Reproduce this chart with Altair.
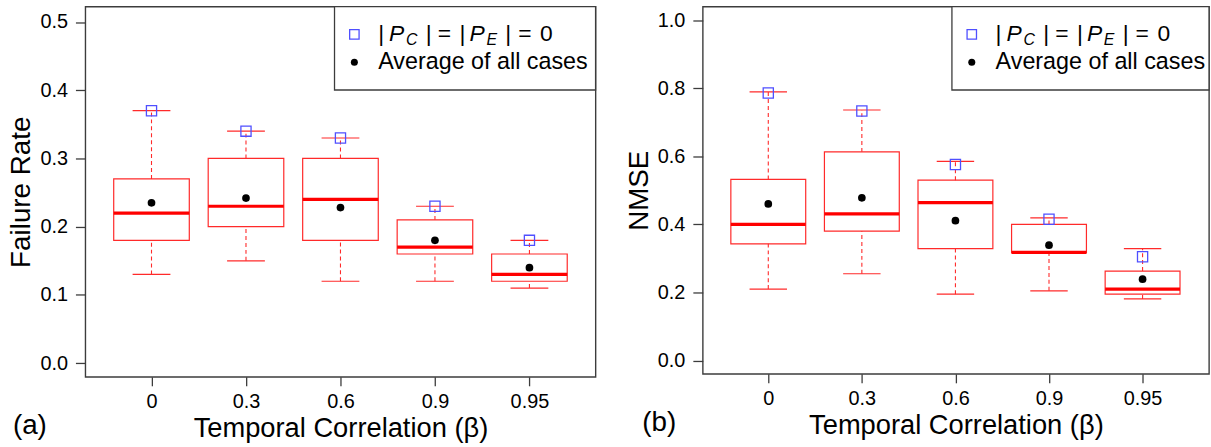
import altair as alt
import pandas as pd

# Temporal correlation settings (beta) shown on the x axis
beta_labels = ["0", "0.3", "0.6", "0.9", "0.95"]

# Failure rate box-plot statistics per beta
fr_whisker_low = [0.13, 0.15, 0.12, 0.12, 0.11]
fr_q1 = [0.18, 0.20, 0.18, 0.16, 0.12]
fr_median = [0.22, 0.23, 0.24, 0.17, 0.13]
fr_q3 = [0.27, 0.30, 0.30, 0.21, 0.16]
fr_whisker_high = [0.37, 0.34, 0.33, 0.23, 0.18]
fr_mean = [0.235, 0.242, 0.228, 0.18, 0.14]
fr_no_fault = [0.37, 0.34, 0.33, 0.23, 0.18]

# NMSE box-plot statistics per beta
nmse_whisker_low = [0.21, 0.255, 0.195, 0.205, 0.181]
nmse_q1 = [0.343, 0.38, 0.329, 0.317, 0.195]
nmse_median = [0.40, 0.431, 0.464, 0.318, 0.21]
nmse_q3 = [0.532, 0.613, 0.53, 0.40, 0.263]
nmse_whisker_high = [0.789, 0.736, 0.585, 0.419, 0.329]
nmse_mean = [0.46, 0.478, 0.411, 0.339, 0.239]
nmse_no_fault = [0.786, 0.733, 0.576, 0.415, 0.305]

FONT = "Liberation Sans"
RED = "#ff2a2a"
FRAME = "#3c3c3c"
BLUE = "#4f4fff"


def stats_frame(low, q1, med, q3, high, mean, zero):
    return pd.DataFrame({
        "pos": list(range(1, len(beta_labels) + 1)),
        "low": low, "q1": q1, "med": med, "q3": q3, "high": high,
        "mean": mean, "zero": zero,
    })


def panel(df, y_title, y_ticks, y_domain, width, height, x_domain, tag, tag_x):
    label_expr = "[" + ",".join(f"'{b}'" for b in beta_labels) + "][datum.value - 1]"
    x_axis = alt.Axis(
        values=list(range(1, len(beta_labels) + 1)), labelExpr=label_expr,
        title="Temporal Correlation (β)", tickSize=9, labelPadding=6,
        titlePadding=3, labelFontSize=20, titleFontSize=27.5, grid=False,
        domain=False, titleFontWeight="normal", labelFont=FONT, titleFont=FONT,
        tickColor=FRAME, tickWidth=1.3, labelColor="black", titleColor="black",
    )
    y_axis = alt.Axis(
        values=y_ticks, format=".1f", title=y_title, tickSize=10,
        labelPadding=8, titlePadding=4, labelFontSize=20, titleFontSize=28,
        grid=False, domain=False, titleFontWeight="normal", labelFont=FONT,
        titleFont=FONT, tickColor=FRAME, tickWidth=1.3, labelColor="black",
        titleColor="black",
    )
    xs = alt.Scale(domain=x_domain, nice=False, zero=False)
    ys = alt.Scale(domain=y_domain, nice=False, zero=False)

    def X(f):
        return alt.X(f, type="quantitative", scale=xs, axis=x_axis)

    def Y(f):
        return alt.Y(f, type="quantitative", scale=ys, axis=y_axis)

    base = alt.Chart(df).transform_calculate(
        bl="datum.pos - 0.4", br="datum.pos + 0.4",
        cl="datum.pos - 0.2", cr="datum.pos + 0.2",
    )

    whisk_lo = base.mark_rule(color=RED, strokeDash=[4, 3], strokeWidth=1.1).encode(
        x=X("pos"), y=Y("low"), y2="q1")
    whisk_hi = base.mark_rule(color=RED, strokeDash=[4, 3], strokeWidth=1.1).encode(
        x=X("pos"), y=Y("q3"), y2="high")
    cap_lo = base.mark_rule(color=RED, strokeWidth=1.2).encode(
        x=X("cl"), x2="cr", y=Y("low"))
    cap_hi = base.mark_rule(color=RED, strokeWidth=1.2).encode(
        x=X("cl"), x2="cr", y=Y("high"))
    box = base.mark_rect(fillOpacity=0, stroke=RED, strokeWidth=1.2).encode(
        x=X("bl"), x2="br", y=Y("q1"), y2="q3")
    median = base.mark_rule(color="#ff0000", strokeWidth=3.2).encode(
        x=X("bl"), x2="br", y=Y("med"))
    zero = base.mark_point(shape="square", filled=False, color=BLUE, size=105,
                           strokeWidth=1.3, opacity=1).encode(x=X("pos"), y=Y("zero"))
    mean = base.mark_circle(color="black", size=60, opacity=1).encode(
        x=X("pos"), y=Y("mean"))

    one = alt.Data(values=[{"k": 0}])
    lx0, ly1, ly2 = 271, 28, 56
    tx = lx0 + 23
    legend_box = alt.Chart(one).mark_rect(fill="white", stroke=FRAME, strokeWidth=1.3).encode(
        x=alt.value(251), x2=alt.value(width), y=alt.value(0), y2=alt.value(84))
    leg_sq = alt.Chart(one).mark_point(shape="square", filled=False, color=BLUE,
                                       size=90, strokeWidth=1.3, opacity=1).encode(
        x=alt.value(lx0), y=alt.value(ly1))
    leg_dot = alt.Chart(one).mark_circle(color="black", size=50, opacity=1).encode(
        x=alt.value(lx0), y=alt.value(ly2))

    pieces = [
        ("|", 1, 0, 23, "normal"),
        ("P", 12, 0, 23, "italic"),
        ("C", 29, 6, 16, "italic"),
        ("|", 49, 0, 23, "normal"),
        ("=", 61, 0, 23, "normal"),
        ("|", 83, 0, 23, "normal"),
        ("P", 93, 0, 23, "italic"),
        ("E", 110, 6, 16, "italic"),
        ("|", 129, 0, 23, "normal"),
        ("=", 142, 0, 23, "normal"),
        ("0", 164, 0, 23, "normal"),
    ]
    leg_text = []
    for txt, dx, dy, fs, style in pieces:
        leg_text.append(alt.Chart(one).mark_text(
            text=txt, font=FONT, fontSize=fs, fontStyle=style, align="left",
            baseline="middle", color="black").encode(
            x=alt.value(tx + dx), y=alt.value(ly1 + dy)))
    leg_text.append(alt.Chart(one).mark_text(
        text="Average of all cases", font=FONT, fontSize=23.5, align="left",
        baseline="middle", color="black").encode(
        x=alt.value(tx + 1), y=alt.value(ly2)))

    tag_text = alt.Chart(one).mark_text(
        text=tag, font=FONT, fontSize=28, align="left", baseline="alphabetic",
        color="black").encode(x=alt.value(tag_x), y=alt.value(height + 58))

    return alt.layer(
        whisk_lo, whisk_hi, cap_lo, cap_hi, box, median, zero, mean,
        legend_box, leg_sq, leg_dot, *leg_text, tag_text,
    ).properties(width=width, height=height)


left_df = stats_frame(fr_whisker_low, fr_q1, fr_median, fr_q3, fr_whisker_high,
                      fr_mean, fr_no_fault)
right_df = stats_frame(nmse_whisker_low, nmse_q1, nmse_median, nmse_q3,
                       nmse_whisker_high, nmse_mean, nmse_no_fault)

left = panel(left_df, "Failure Rate", [0, 0.1, 0.2, 0.3, 0.4, 0.5],
             [-0.0201, 0.5226], 514, 373, [0.3, 5.7], "(a)", -73)
right = panel(right_df, "NMSE", [0, 0.2, 0.4, 0.6, 0.8, 1.0],
              [-0.039, 1.0396], 510, 370, [0.3, 5.71], "(b)", -61)

chart = alt.hconcat(left, right, spacing=27).properties(
    padding={"left": 7, "top": 3, "right": 0, "bottom": 0},
    background="white",
).configure_view(
    stroke=FRAME, strokeWidth=1.4
)

chart.save("out.html", embed_options={"renderer": "svg", "actions": False})
